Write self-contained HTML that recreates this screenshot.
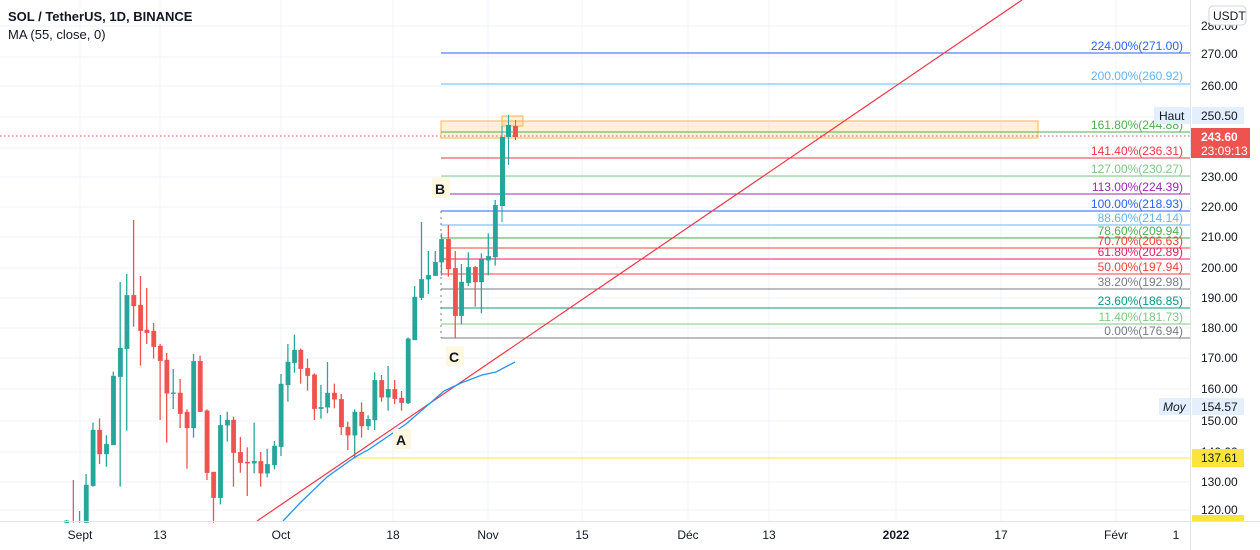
<!DOCTYPE html>
<html><head><meta charset="utf-8"><style>
body{margin:0;width:1260px;height:550px;overflow:hidden;background:#fff;font-family:"Liberation Sans",sans-serif}
svg{display:block}
.g{fill:#26a69a;stroke:#26a69a}.r{fill:#ef5350;stroke:#ef5350}
.w line{vector-effect:non-scaling-stroke;stroke-width:1.3}
.fl{font-size:12px;text-anchor:end}
.ax{font-size:12px;fill:#131722}
</style></head><body>
<svg width="1260" height="550" viewBox="0 0 1260 550">
<g stroke="#f0f3fa" stroke-width="1">
<line x1="0" y1="26" x2="1190" y2="26"/><line x1="0" y1="57" x2="1190" y2="57"/><line x1="0" y1="86" x2="1190" y2="86"/><line x1="0" y1="117" x2="1190" y2="117"/><line x1="0" y1="148" x2="1190" y2="148"/><line x1="0" y1="177" x2="1190" y2="177"/><line x1="0" y1="207" x2="1190" y2="207"/><line x1="0" y1="237" x2="1190" y2="237"/><line x1="0" y1="268" x2="1190" y2="268"/><line x1="0" y1="298" x2="1190" y2="298"/><line x1="0" y1="328" x2="1190" y2="328"/><line x1="0" y1="358" x2="1190" y2="358"/><line x1="0" y1="389" x2="1190" y2="389"/><line x1="0" y1="421" x2="1190" y2="421"/><line x1="0" y1="452" x2="1190" y2="452"/><line x1="0" y1="482" x2="1190" y2="482"/><line x1="0" y1="510" x2="1190" y2="510"/>
<line x1="80" y1="0" x2="80" y2="521"/><line x1="160" y1="0" x2="160" y2="521"/><line x1="281" y1="0" x2="281" y2="521"/><line x1="393" y1="0" x2="393" y2="521"/><line x1="488" y1="0" x2="488" y2="521"/><line x1="582" y1="0" x2="582" y2="521"/><line x1="688" y1="0" x2="688" y2="521"/><line x1="769" y1="0" x2="769" y2="521"/><line x1="896" y1="0" x2="896" y2="521"/><line x1="1001" y1="0" x2="1001" y2="521"/><line x1="1116" y1="0" x2="1116" y2="521"/>
</g>
<!-- price dotted -->
<line x1="0" y1="136" x2="1190" y2="136" stroke="#ef5350" stroke-dasharray="1.5,2.5"/>
<!-- orange boxes -->
<rect x="441" y="121" width="597" height="17" fill="rgba(255,152,0,0.15)" stroke="#ffb74d"/>
<rect x="502" y="116" width="21" height="10" fill="rgba(255,152,0,0.15)" stroke="#ffb74d"/>
<!-- fib -->
<g stroke-width="1">
<line x1="441" y1="53" x2="1190" y2="53" stroke="#2962ff"/>
<line x1="441" y1="84" x2="1190" y2="84" stroke="#64b5f6"/>
<line x1="441" y1="132" x2="1190" y2="132" stroke="#4caf50"/>
<line x1="441" y1="158" x2="1190" y2="158" stroke="#f23645"/>
<line x1="441" y1="176" x2="1190" y2="176" stroke="#81c784"/>
<line x1="441" y1="194" x2="1190" y2="194" stroke="#9c27b0"/>
<line x1="441" y1="211" x2="1190" y2="211" stroke="#2962ff"/>
<line x1="441" y1="225" x2="1190" y2="225" stroke="#64b5f6"/>
<line x1="441" y1="238" x2="1190" y2="238" stroke="#4caf50"/>
<line x1="441" y1="248" x2="1190" y2="248" stroke="#f44336"/>
<line x1="441" y1="259" x2="1190" y2="259" stroke="#e91e63"/>
<line x1="441" y1="274" x2="1190" y2="274" stroke="#f44336"/>
<line x1="441" y1="289" x2="1190" y2="289" stroke="#787b86"/>
<line x1="441" y1="308" x2="1190" y2="308" stroke="#089981"/>
<line x1="441" y1="324" x2="1190" y2="324" stroke="#81c784"/>
<line x1="441" y1="338" x2="1190" y2="338" stroke="#787b86"/>
<line x1="441" y1="211" x2="441" y2="338" stroke="#787b86" stroke-dasharray="2,4"/>
</g>
<g class="fl">
<text x="1183" y="50" fill="#2962ff">224.00%(271.00)</text>
<text x="1183" y="80" fill="#64b5f6">200.00%(260.92)</text>
<text x="1183" y="129" fill="#4caf50">161.80%(244.88)</text>
<text x="1183" y="155" fill="#f23645">141.40%(236.31)</text>
<text x="1183" y="173" fill="#81c784">127.00%(230.27)</text>
<text x="1183" y="191" fill="#9c27b0">113.00%(224.39)</text>
<text x="1183" y="208" fill="#2962ff">100.00%(218.93)</text>
<text x="1183" y="222" fill="#64b5f6">88.60%(214.14)</text>
<text x="1183" y="235" fill="#4caf50">78.60%(209.94)</text>
<text x="1183" y="245" fill="#f44336">70.70%(206.63)</text>
<text x="1183" y="256" fill="#e91e63">61.80%(202.89)</text>
<text x="1183" y="271" fill="#f44336">50.00%(197.94)</text>
<text x="1183" y="286" fill="#787b86">38.20%(192.98)</text>
<text x="1183" y="305" fill="#089981">23.60%(186.85)</text>
<text x="1183" y="321" fill="#81c784">11.40%(181.73)</text>
<text x="1183" y="335" fill="#787b86">0.00%(176.94)</text>
</g>
<line x1="354" y1="458" x2="1190" y2="458" stroke="#fbe43d"/>
<!-- candles in zoom coords -->
<g class="w" transform="translate(0,200) scale(0.34435,0.33333)">
<g class="g"><line x1="193" y1="960" x2="193" y2="968"/><rect x="187" y="962" width="13" height="6"/></g>
<g class="r"><line x1="213" y1="840" x2="213" y2="968"/></g>
<g class="g"><line x1="231" y1="933" x2="231" y2="968"/></g>
<g class="g"><line x1="250" y1="822" x2="250" y2="968"/><rect x="244" y="855" width="13" height="113"/></g>
<g class="g"><line x1="270" y1="668" x2="270" y2="860"/><rect x="264" y="690" width="13" height="167"/></g>
<g class="r"><line x1="289" y1="655" x2="289" y2="792"/><rect x="283" y="690" width="13" height="72"/></g>
<g class="g"><line x1="309" y1="706" x2="309" y2="800"/><rect x="303" y="733" width="13" height="29"/></g>
<g class="g"><line x1="329" y1="515" x2="329" y2="735"/><rect x="323" y="528" width="13" height="207"/></g>
<g class="g"><line x1="349" y1="246" x2="349" y2="860"/><rect x="343" y="444" width="13" height="86"/></g>
<g class="g"><line x1="368" y1="222" x2="368" y2="692"/><rect x="362" y="286" width="13" height="160"/></g>
<g class="r"><line x1="388" y1="60" x2="388" y2="380"/><rect x="382" y="286" width="13" height="32"/></g>
<g class="r"><line x1="408" y1="228" x2="408" y2="497"/><rect x="402" y="315" width="13" height="77"/></g>
<g class="r"><line x1="426" y1="264" x2="426" y2="432"/><rect x="420" y="390" width="13" height="8"/></g>
<g class="r"><line x1="446" y1="369" x2="446" y2="476"/><rect x="440" y="393" width="13" height="47"/></g>
<g class="r"><line x1="465" y1="432" x2="465" y2="660"/><rect x="459" y="438" width="13" height="44"/></g>
<g class="r"><line x1="484" y1="459" x2="484" y2="728"/><rect x="478" y="480" width="13" height="100"/></g>
<g class="g"><line x1="503" y1="507" x2="503" y2="627"/><rect x="497" y="578" width="13" height="3"/></g>
<g class="r"><line x1="523" y1="537" x2="523" y2="684"/><rect x="517" y="579" width="13" height="62"/></g>
<g class="r"><line x1="543" y1="628" x2="543" y2="806"/><rect x="537" y="636" width="13" height="48"/></g>
<g class="g"><line x1="562" y1="462" x2="562" y2="713"/><rect x="556" y="484" width="13" height="200"/></g>
<g class="r"><line x1="581" y1="467" x2="581" y2="636"/><rect x="575" y="484" width="13" height="151"/></g>
<g class="r"><line x1="601" y1="628" x2="601" y2="840"/><rect x="595" y="632" width="13" height="186"/></g>
<g class="r"><line x1="620" y1="816" x2="620" y2="968"/><rect x="614" y="816" width="13" height="77"/></g>
<g class="g"><line x1="640" y1="645" x2="640" y2="913"/><rect x="634" y="676" width="13" height="217"/></g>
<g class="g"><line x1="660" y1="635" x2="660" y2="725"/><rect x="654" y="660" width="13" height="16"/></g>
<g class="r"><line x1="678" y1="650" x2="678" y2="860"/><rect x="672" y="660" width="13" height="98"/></g>
<g class="r"><line x1="698" y1="711" x2="698" y2="818"/><rect x="692" y="757" width="13" height="31"/></g>
<g class="r"><line x1="718" y1="742" x2="718" y2="888"/><rect x="712" y="786" width="13" height="4"/></g>
<g class="g"><line x1="738" y1="668" x2="738" y2="820"/><rect x="732" y="784" width="13" height="6"/></g>
<g class="r"><line x1="757" y1="756" x2="757" y2="860"/><rect x="751" y="784" width="13" height="36"/></g>
<g class="g"><line x1="776" y1="746" x2="776" y2="832"/><rect x="770" y="793" width="13" height="27"/></g>
<g class="g"><line x1="797" y1="723" x2="797" y2="808"/><rect x="791" y="738" width="13" height="57"/></g>
<g class="g"><line x1="816" y1="522" x2="816" y2="768"/><rect x="810" y="552" width="13" height="188"/></g>
<g class="g"><line x1="836" y1="432" x2="836" y2="605"/><rect x="830" y="486" width="13" height="69"/></g>
<g class="g"><line x1="855" y1="404" x2="855" y2="518"/><rect x="849" y="450" width="13" height="38"/></g>
<g class="r"><line x1="873" y1="446" x2="873" y2="551"/><rect x="867" y="450" width="13" height="56"/></g>
<g class="r"><line x1="893" y1="476" x2="893" y2="572"/><rect x="887" y="505" width="13" height="22"/></g>
<g class="r"><line x1="913" y1="520" x2="913" y2="660"/><rect x="907" y="524" width="13" height="102"/></g>
<g class="g"><line x1="932" y1="555" x2="932" y2="656"/><rect x="926" y="622" width="13" height="4"/></g>
<g class="g"><line x1="951" y1="486" x2="951" y2="640"/><rect x="945" y="579" width="13" height="43"/></g>
<g class="r"><line x1="971" y1="551" x2="971" y2="625"/><rect x="965" y="579" width="13" height="19"/></g>
<g class="r"><line x1="991" y1="582" x2="991" y2="705"/><rect x="985" y="598" width="13" height="83"/></g>
<g class="r"><line x1="1010" y1="665" x2="1010" y2="750"/><rect x="1004" y="681" width="13" height="25"/></g>
<g class="g"><line x1="1030" y1="628" x2="1030" y2="775"/><rect x="1024" y="636" width="13" height="70"/></g>
<g class="r"><line x1="1050" y1="607" x2="1050" y2="713"/><rect x="1044" y="636" width="13" height="42"/></g>
<g class="g"><line x1="1069" y1="646" x2="1069" y2="690"/><rect x="1063" y="658" width="13" height="20"/></g>
<g class="g"><line x1="1088" y1="517" x2="1088" y2="690"/><rect x="1082" y="541" width="13" height="119"/></g>
<g class="r"><line x1="1108" y1="525" x2="1108" y2="605"/><rect x="1102" y="541" width="13" height="51"/></g>
<g class="g"><line x1="1127" y1="498" x2="1127" y2="632"/><rect x="1121" y="568" width="13" height="24"/></g>
<g class="r"><line x1="1146" y1="540" x2="1146" y2="612"/><rect x="1140" y="568" width="13" height="28"/></g>
<g class="r"><line x1="1166" y1="573" x2="1166" y2="632"/><rect x="1160" y="594" width="13" height="14"/></g>
<g class="g"><line x1="1185" y1="412" x2="1185" y2="612"/><rect x="1179" y="416" width="13" height="193"/></g>
<g class="g"><line x1="1204" y1="258" x2="1204" y2="420"/><rect x="1198" y="291" width="13" height="129"/></g>
<g class="g"><line x1="1224" y1="66" x2="1224" y2="300"/><rect x="1218" y="238" width="13" height="55"/></g>
<g class="g"><line x1="1244" y1="153" x2="1244" y2="282"/><rect x="1238" y="226" width="13" height="12"/></g>
<g class="g"><line x1="1264" y1="153" x2="1264" y2="227"/><rect x="1258" y="187" width="13" height="40"/></g>
<g class="g"><line x1="1282" y1="100" x2="1282" y2="227"/><rect x="1276" y="118" width="13" height="69"/></g>
<g class="r"><line x1="1302" y1="75" x2="1302" y2="230"/><rect x="1296" y="118" width="13" height="89"/></g>
<g class="r"><line x1="1322" y1="153" x2="1322" y2="413"/><rect x="1316" y="205" width="13" height="142"/></g>
<g class="g"><line x1="1340" y1="192" x2="1340" y2="373"/><rect x="1334" y="246" width="13" height="101"/></g>
<g class="g"><line x1="1360" y1="157" x2="1360" y2="258"/><rect x="1354" y="202" width="13" height="46"/></g>
<g class="r"><line x1="1380" y1="198" x2="1380" y2="320"/><rect x="1374" y="202" width="13" height="44"/></g>
<g class="g"><line x1="1398" y1="160" x2="1398" y2="340"/><rect x="1392" y="179" width="13" height="67"/></g>
<g class="g"><line x1="1418" y1="100" x2="1418" y2="226"/><rect x="1412" y="169" width="13" height="12"/></g>
<g class="g"><line x1="1438" y1="0" x2="1438" y2="197"/><rect x="1432" y="16" width="13" height="155"/></g>
</g>
<g>
<line x1="502" y1="126" x2="502" y2="222" stroke="#26a69a"/><rect x="500" y="137" width="5" height="69" fill="#26a69a"/>
<line x1="508.5" y1="115" x2="508.5" y2="165" stroke="#26a69a"/><rect x="506" y="125" width="5" height="12" fill="#26a69a"/>
<line x1="515.5" y1="120" x2="515.5" y2="140" stroke="#ef5350"/><rect x="513" y="126" width="5" height="11" fill="#ef5350"/>
</g>
<!-- trendline & MA -->
<line x1="257" y1="521" x2="1022" y2="0" stroke="#f23645" stroke-width="1.2"/>
<polyline fill="none" stroke="#2196f3" stroke-width="1.3" points="283,521 300,503 327,477 355,457 368,450 406,424 444,391 461,383 482,375 496,372 515,362"/>
<!-- letters -->
<rect x="432" y="178" width="18" height="20" fill="#fff8e1"/><text x="435" y="194" font-size="14" font-weight="bold" fill="#131722">B</text>
<rect x="446" y="346" width="18" height="20" fill="#fff8e1"/><text x="449" y="362" font-size="14" font-weight="bold" fill="#131722">C</text>
<rect x="393" y="429" width="18" height="20" fill="#fff8e1"/><text x="396" y="445" font-size="14" font-weight="bold" fill="#131722">A</text>
<!-- header -->
<text x="8" y="21" font-size="13" font-weight="bold" fill="#131722">SOL / TetherUS, 1D, BINANCE</text>
<text x="8" y="39" font-size="13" fill="#131722">MA (55, close, 0)</text>
<!-- axes -->
<rect x="1191" y="0" width="69" height="550" fill="#fff"/>
<line x1="1190.5" y1="0" x2="1190.5" y2="550" stroke="#e0e3eb"/>
<line x1="0" y1="521.5" x2="1260" y2="521.5" stroke="#e0e3eb"/>
<g class="ax">
<text x="1201" y="30">280.00</text><text x="1201" y="58">270.00</text><text x="1201" y="90">260.00</text><text x="1201" y="181">230.00</text><text x="1201" y="211">220.00</text><text x="1201" y="241">210.00</text><text x="1201" y="272">200.00</text><text x="1201" y="302">190.00</text><text x="1201" y="332">180.00</text><text x="1201" y="362">170.00</text><text x="1201" y="393">160.00</text><text x="1201" y="425">150.00</text><text x="1201" y="456">140.00</text><text x="1201" y="486">130.00</text><text x="1201" y="514">120.00</text>
</g>
<rect x="1209" y="6" width="37" height="19" rx="4" fill="#fff" stroke="#d1d4dc"/><text x="1213" y="20" class="ax">USDT</text>
<rect x="1154" y="107" width="36" height="17" fill="#e3effd"/><text x="1159" y="120" class="ax">Haut</text>
<rect x="1192" y="107" width="52" height="17" fill="#e3effd"/><text x="1201" y="120" class="ax">250.50</text>
<rect x="1191" y="128" width="59" height="30" fill="#ef5350"/>
<text x="1201" y="141" font-size="12" font-weight="bold" fill="#fff">243.60</text><text x="1201" y="155" font-size="12" fill="#fff">23:09:13</text>
<rect x="1159" y="398" width="31" height="17" fill="#e3effd"/><text x="1163" y="411" class="ax" font-style="italic">Moy</text>
<rect x="1192" y="398" width="52" height="17" fill="#e3effd"/><text x="1201" y="411" class="ax">154.57</text>
<rect x="1192" y="449" width="52" height="18" fill="#fbe43d"/><text x="1201" y="462" class="ax">137.61</text>
<rect x="1192" y="515" width="52" height="6" fill="#fbe43d"/>
<g class="ax" text-anchor="middle">
<text x="80" y="539">Sept</text><text x="160" y="539">13</text><text x="281" y="539">Oct</text><text x="393" y="539">18</text><text x="488" y="539">Nov</text><text x="582" y="539">15</text><text x="688" y="539">Déc</text><text x="769" y="539">13</text><text x="896" y="539" font-weight="bold">2022</text><text x="1001" y="539">17</text><text x="1116" y="539">Févr</text><text x="1176" y="539">1</text>
</g>
</svg>
</body></html>
